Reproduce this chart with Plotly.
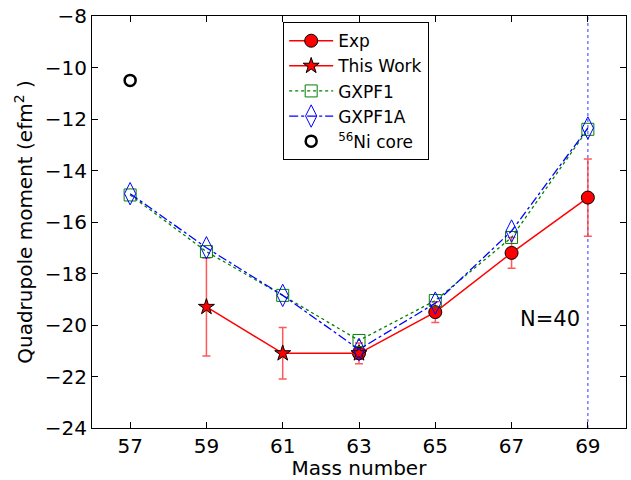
import plotly.graph_objects as go

mass_exp = [63, 65, 67, 69]
q_exp = [-21.1, -19.5, -17.2, -15.05]
q_exp_err = [0.4, 0.4, 0.6, 1.5]

mass_tw = [59, 61, 63]
q_tw = [-19.3, -21.1, -21.1]
q_tw_err = [1.9, 1.0, 0.0]

mass_th = [57, 59, 61, 63, 65, 67, 69]
q_gxpf1 = [-14.95, -17.15, -18.85, -20.6, -19.05, -16.6, -12.4]
q_gxpf1a = [-14.9, -17.0, -18.85, -20.95, -19.15, -16.35, -12.35]

mass_core = [57]
q_core = [-10.5]

x_ticks = [57, 59, 61, 63, 65, 67, 69]
y_ticks = [-24, -22, -20, -18, -16, -14, -12, -10, -8]

FONT = "DejaVu Sans"
fig = go.Figure()

fig.add_trace(go.Scatter(
    x=[69, 69], y=[-24, -8], mode="lines", showlegend=False,
    line=dict(color="rgba(60,60,255,0.8)", width=1.3, dash="dot"), hoverinfo="skip"))

fig.add_trace(go.Scatter(
    x=mass_exp, y=q_exp, name="Exp", mode="lines+markers",
    line=dict(color="red", width=1.5),
    marker=dict(symbol="circle", size=13, color="red", line=dict(color="black", width=1)),
    error_y=dict(type="data", array=q_exp_err, color="rgba(255,60,60,0.85)", thickness=1.5, width=4)))

fig.add_trace(go.Scatter(
    x=mass_tw, y=q_tw, name="This Work", mode="lines+markers",
    line=dict(color="red", width=1.5),
    marker=dict(symbol="star", size=12, color="red", line=dict(color="black", width=1)),
    error_y=dict(type="data", array=q_tw_err, color="rgba(255,60,60,0.85)", thickness=1.5, width=4)))

fig.add_trace(go.Scatter(
    x=mass_th, y=q_gxpf1, name="GXPF1", mode="lines+markers",
    line=dict(color="#008000", width=1.3, dash="dot"),
    marker=dict(symbol="square-open", size=12, color="#008000", line=dict(width=1))))

fig.add_trace(go.Scatter(
    x=mass_th, y=q_gxpf1a, name="GXPF1A", mode="lines+markers",
    line=dict(color="blue", width=1.3, dash="dashdot"),
    marker=dict(symbol="diamond-tall-open", size=16, color="blue", line=dict(width=1))))

fig.add_trace(go.Scatter(
    x=mass_core, y=q_core, name="<sup>56</sup>Ni core", mode="markers",
    marker=dict(symbol="circle-open", size=11, color="black", line=dict(width=2.5))))

fig.add_annotation(x=68, y=-19.77, text="N=40", showarrow=False,
                   font=dict(family=FONT, size=21, color="black"))

axis_common = dict(showline=True, linecolor="black", linewidth=1.2, mirror="ticks",
                   ticks="inside", ticklen=6, tickcolor="black", showgrid=False,
                   zeroline=False, tickfont=dict(family=FONT, size=20, color="black"))

fig.update_xaxes(range=[56, 70], tickvals=x_ticks, ticktext=[str(v) for v in x_ticks],
                 title=dict(text="Mass number", font=dict(family=FONT, size=20, color="black"), standoff=3),
                 **axis_common)
fig.update_yaxes(range=[-24, -8], tickvals=y_ticks,
                 title=dict(text="Quadrupole moment (efm<sup>2</sup> )", font=dict(family=FONT, size=20, color="black"), standoff=6),
                 **axis_common)

fig.update_layout(
    width=631, height=480,
    margin=dict(l=92, r=5, t=16, b=52),
    plot_bgcolor="white", paper_bgcolor="white",
    font=dict(family=FONT, color="black"),
    legend=dict(x=0.358, y=0.985, xanchor="left", yanchor="top",
                bordercolor="black", borderwidth=1, bgcolor="white",
                font=dict(family=FONT, size=17, color="black"),
                tracegroupgap=0, itemwidth=44),
)

fig.write_html("out.html", config={"displayModeBar": False},
               post_script="document.body.style.margin='0';document.body.style.padding='0';")
